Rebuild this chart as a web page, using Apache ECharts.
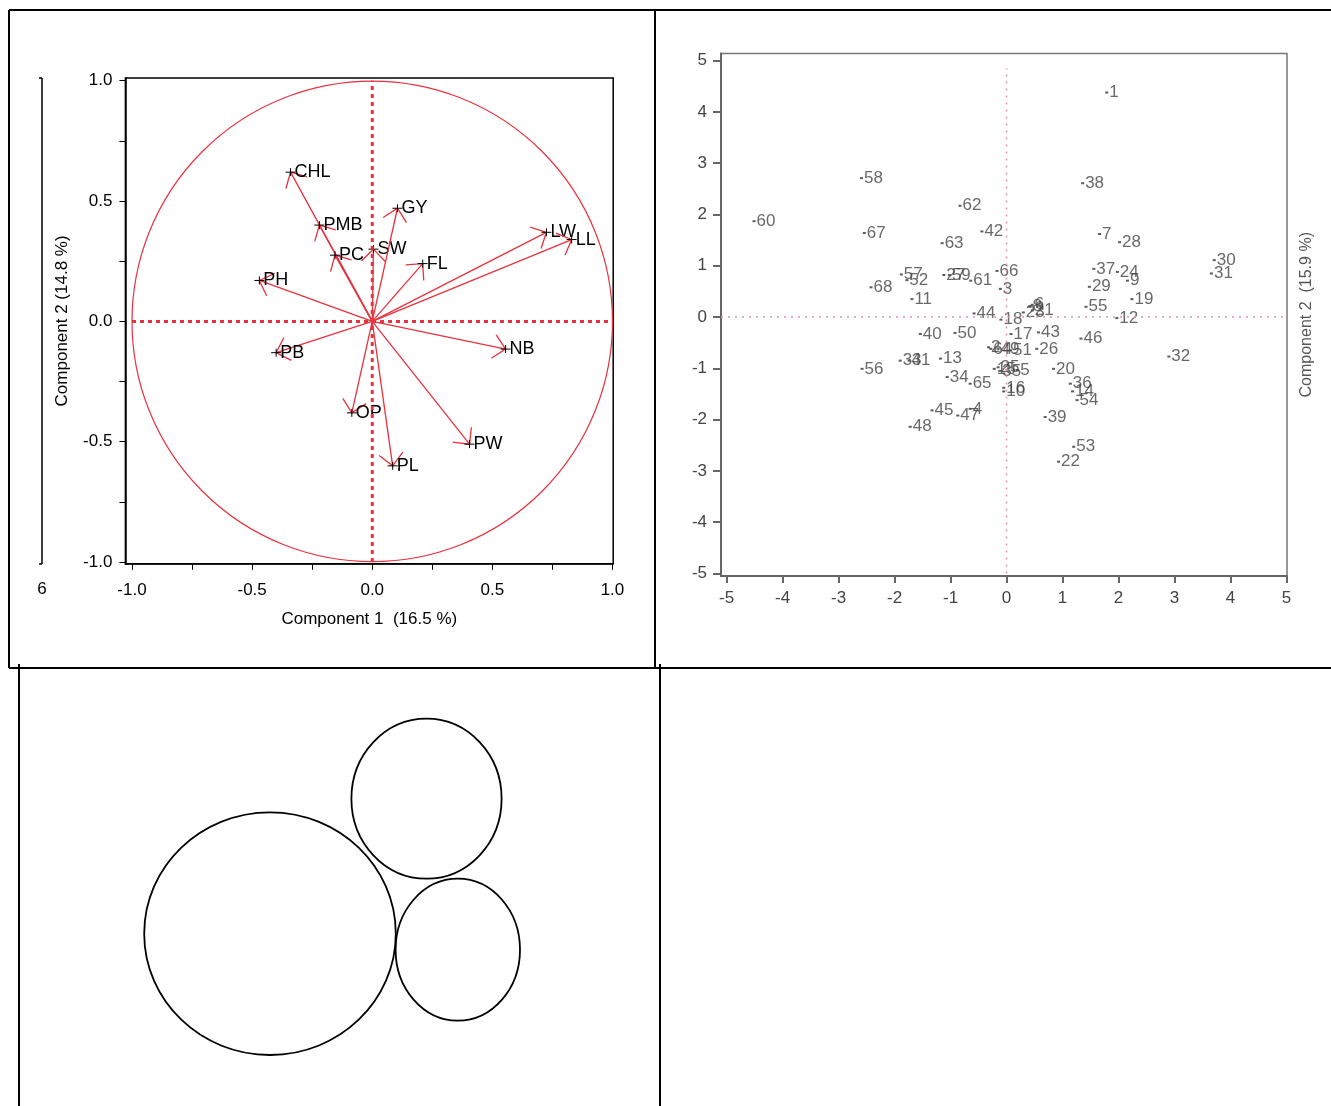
<!DOCTYPE html>
<html>
<head>
<meta charset="utf-8">
<script src="https://cdn.jsdelivr.net/npm/echarts@6/dist/echarts.min.js"></script>
<style>
html, body { margin: 0; padding: 0; background: #fff; }
#main { width: 1331px; height: 1106px; }
</style>
</head>
<body>
<div id="main"></div>
<script>
// loadings (correlation circle)
var varNames = ['CHL', 'PMB', 'PC', 'SW', 'GY', 'FL', 'LW', 'LL', 'PH', 'PB', 'NB', 'OP', 'PW', 'PL'];
var comp1 = [-0.34, -0.22, -0.155, 0.005, 0.105, 0.21, 0.725, 0.83, -0.47, -0.40, 0.555, -0.085, 0.405, 0.085];
var comp2 = [0.62, 0.40, 0.275, 0.30, 0.47, 0.24, 0.37, 0.34, 0.17, -0.13, -0.115, -0.38, -0.51, -0.60];
var loadTicks = [-1, -0.5, 0, 0.5, 1];
var loadMinorTicks = [-1, -0.75, -0.5, -0.25, 0, 0.25, 0.5, 0.75, 1];
var unitCircle = [0, 0, 1];
var hRef = [[-1, 0], [1, 0]];
var vRef = [[0, -1], [0, 1]];

// scores (observations 1..68)
var obsIds = [];
for (var i = 1; i <= 68; i++) obsIds.push(String(i));
var score1 = [1.79, -0.32, -0.11, -0.65, 0.20, 0.46, 1.66, 0.42, 2.16, -0.05,
              -1.69, 1.97, -1.18, 1.18, -0.22, -0.05, 0.08, -0.10, 2.24, 0.84,
              0.46, 0.93, 0.30, 1.98, -0.15, 0.54, -1.12, 2.02, 1.48, 3.71,
              3.66, 2.90, -1.90, -1.06, -0.12, 1.14, 1.56, 1.36, 0.69, -1.54,
              -1.74, -0.44, 0.57, -0.58, -1.33, 1.33, -0.87, -1.72, -0.15, -0.92,
              0.07, -1.78, 1.20, 1.26, 1.42, -2.58, -1.88, -2.59, -1.02, -4.51,
              -0.64, -0.83, -1.15, -0.28, -0.65, -0.17, -2.54, -2.42];
var score2 = [4.38, -0.59, 0.55, -1.79, -1.04, 0.24, 1.62, 0.20, 0.71, -1.45,
              0.35, -0.02, -0.81, -1.45, -1.01, -1.38, -0.33, -0.05, 0.35, -1.01,
              0.13, -2.82, 0.09, 0.88, -0.98, -0.62, 0.82, 1.46, 0.59, 1.11,
              0.85, -0.77, -0.85, -1.17, -1.05, -1.30, 0.94, 2.61, -1.95, -0.33,
              -0.85, 1.67, -0.30, 0.07, -1.82, -0.42, -1.92, -2.14, -0.62, -0.31,
              -0.65, 0.72, -2.53, -1.62, 0.20, -1.01, 0.83, 2.71, 0.82, 1.87,
              0.71, 2.17, 1.44, -0.62, -1.30, 0.90, 1.64, 0.58];
var scoreTicks = [-5, -4, -3, -2, -1, 0, 1, 2, 3, 4, 5];
var sRefH = [[-5.1, 0], [5.0, 0]];
var sRefV = [[0, -5.0], [0, 4.85]];

var RED = '#e8323e';
var FONT = '"Liberation Sans", Arial, sans-serif';

var loadData = varNames.map(function (n, i) { return [comp1[i], comp2[i]]; });
var scoreData = obsIds.map(function (n, i) { return [score1[i], score2[i], n]; });

function renderArrow(params, api) {
    var o = api.coord([0, 0]);
    var t = api.coord([api.value(0), api.value(1)]);
    var a = Math.atan2(o[1] - t[1], o[0] - t[0]);
    var len = 17, spread = 0.78;
    var h1 = [t[0] + len * Math.cos(a + spread), t[1] + len * Math.sin(a + spread)];
    var h2 = [t[0] + len * Math.cos(a - spread), t[1] + len * Math.sin(a - spread)];
    return {
        type: 'group',
        children: [
            { type: 'line', shape: { x1: o[0], y1: o[1], x2: t[0], y2: t[1] }, style: { stroke: RED, lineWidth: 1.3 } },
            { type: 'polyline', shape: { points: [h1, t, h2] }, style: { stroke: RED, lineWidth: 1.3, fill: null } },
            { type: 'line', shape: { x1: t[0] - 5, y1: t[1], x2: t[0] + 5, y2: t[1] }, style: { stroke: '#000', lineWidth: 1 } },
            { type: 'line', shape: { x1: t[0], y1: t[1] - 4, x2: t[0], y2: t[1] + 4 }, style: { stroke: '#000', lineWidth: 1 } },
            { type: 'text', x: t[0] + 4, y: t[1], style: { text: varNames[params.dataIndex], fill: '#000', font: '18px ' + FONT, align: 'left', verticalAlign: 'middle' } }
        ]
    };
}

function renderCircle(params, api) {
    var c = api.coord([api.value(0), api.value(1)]);
    var s = api.size([api.value(2), api.value(2)]);
    return { type: 'circle', shape: { cx: c[0], cy: c[1], r: s[0] }, style: { fill: null, stroke: RED, lineWidth: 1.2 } };
}

var chart = echarts.init(document.getElementById('main'));
chart.setOption({
    animation: false,
    backgroundColor: '#fff',
    grid: [
        { left: 125.4, top: 78, width: 487.8, height: 485.8, show: true, borderColor: '#000', borderWidth: 1.5, containLabel: false },
        { left: 721, top: 53.5, width: 566, height: 522.5, show: true, borderColor: '#777', borderWidth: 1.5, containLabel: false }
    ],
    xAxis: [
        {
            gridIndex: 0, type: 'value', min: -1.0275, max: 1.003,
            name: 'Component 1  (16.5 %)', nameLocation: 'middle', nameGap: 47,
            nameTextStyle: { color: '#000', fontSize: 17, fontFamily: FONT },
            axisLine: { show: true, onZero: false, lineStyle: { color: '#000', width: 1.5 } },
            axisTick: { show: true, length: 6, customValues: loadMinorTicks, lineStyle: { color: '#000' } },
            axisLabel: { customValues: loadTicks, margin: 18, color: '#000', fontSize: 17, fontFamily: FONT,
                formatter: function (v) { return v.toFixed(1); } },
            splitLine: { show: false }
        },
        {
            gridIndex: 1, type: 'value', min: -5.1, max: 5.01,
            axisLine: { show: true, onZero: false, lineStyle: { color: '#666', width: 2 } },
            axisTick: { show: true, length: 7, customValues: scoreTicks, lineStyle: { color: '#666', width: 2 } },
            axisLabel: { customValues: scoreTicks, margin: 14, color: '#444', fontSize: 17, fontFamily: FONT },
            splitLine: { show: false }
        }
    ],
    yAxis: [
        {
            gridIndex: 0, type: 'value', min: -1.007, max: 1.011,
            name: 'Component 2 (14.8 %)', nameLocation: 'middle', nameGap: 55, nameRotate: 90,
            nameTextStyle: { color: '#000', fontSize: 17, fontFamily: FONT },
            axisLine: { show: true, onZero: false, lineStyle: { color: '#000', width: 1.5 } },
            axisTick: { show: true, length: 6, customValues: loadMinorTicks, lineStyle: { color: '#000' } },
            axisLabel: { customValues: loadTicks, margin: 13, color: '#000', fontSize: 17, fontFamily: FONT,
                formatter: function (v) { return v.toFixed(1); } },
            splitLine: { show: false }
        },
        {
            gridIndex: 1, type: 'value', min: -5.05, max: 5.14,
            axisLine: { show: true, onZero: false, lineStyle: { color: '#666', width: 2 } },
            axisTick: { show: true, length: 8, customValues: scoreTicks, lineStyle: { color: '#666', width: 2 } },
            axisLabel: { customValues: scoreTicks, margin: 14, color: '#444', fontSize: 17, fontFamily: FONT },
            splitLine: { show: false }
        },
        {
            gridIndex: 1, type: 'value', min: -5.05, max: 5.14, position: 'right',
            name: 'Component 2  (15.9 %)', nameLocation: 'middle', nameGap: 12, nameRotate: 90,
            nameTextStyle: { color: '#555', fontSize: 16, fontFamily: FONT },
            axisLine: { show: false, onZero: false }, axisTick: { show: false }, axisLabel: { show: false }, splitLine: { show: false }
        }
    ],
    series: [
        { type: 'line', xAxisIndex: 0, yAxisIndex: 0, data: hRef, symbol: 'none', silent: true,
          lineStyle: { color: RED, width: 3, type: [4, 4] } },
        { type: 'line', xAxisIndex: 0, yAxisIndex: 0, data: vRef, symbol: 'none', silent: true,
          lineStyle: { color: RED, width: 3, type: [4, 4] } },
        { type: 'custom', xAxisIndex: 0, yAxisIndex: 0, data: [unitCircle], renderItem: renderCircle, silent: true },
        { type: 'custom', xAxisIndex: 0, yAxisIndex: 0, data: loadData, renderItem: renderArrow, silent: true },
        { type: 'line', xAxisIndex: 1, yAxisIndex: 1, data: sRefH, symbol: 'none', silent: true,
          lineStyle: { color: '#dd95a8', width: 1.5, type: [2, 5] } },
        { type: 'line', xAxisIndex: 1, yAxisIndex: 1, data: sRefV, symbol: 'none', silent: true,
          lineStyle: { color: '#dd95a8', width: 1.5, type: [2, 5] } },
        {
            type: 'scatter', xAxisIndex: 1, yAxisIndex: 1, data: scoreData,
            symbol: 'rect', symbolSize: [3, 2], itemStyle: { color: '#333' }, silent: true,
            label: { show: true, position: 'right', distance: 1, color: '#444', fontSize: 17, fontFamily: FONT,
                formatter: function (p) { return p.data[2]; } },
            labelLayout: { hideOverlap: false }
        }
    ],
    graphic: [
        { type: 'line', shape: { x1: 9, y1: 10, x2: 1331, y2: 10 }, style: { stroke: '#000', lineWidth: 2 } },
        { type: 'line', shape: { x1: 9, y1: 10, x2: 9, y2: 668 }, style: { stroke: '#000', lineWidth: 2 } },
        { type: 'line', shape: { x1: 655, y1: 10, x2: 655, y2: 668 }, style: { stroke: '#000', lineWidth: 2 } },
        { type: 'line', shape: { x1: 9, y1: 668, x2: 1331, y2: 668 }, style: { stroke: '#000', lineWidth: 2 } },
        { type: 'line', shape: { x1: 19, y1: 664, x2: 19, y2: 1106 }, style: { stroke: '#000', lineWidth: 2 } },
        { type: 'line', shape: { x1: 660, y1: 664, x2: 660, y2: 1106 }, style: { stroke: '#000', lineWidth: 2 } },
        // stray axis in first panel
        { type: 'line', shape: { x1: 42, y1: 78, x2: 42, y2: 564 }, style: { stroke: '#000', lineWidth: 1.5 } },
        { type: 'line', shape: { x1: 39, y1: 78, x2: 42, y2: 78 }, style: { stroke: '#000', lineWidth: 1.5 } },
        { type: 'line', shape: { x1: 39, y1: 564, x2: 42, y2: 564 }, style: { stroke: '#000', lineWidth: 1.5 } },
        { type: 'text', x: 42, y: 589, style: { text: '6', fill: '#000', font: '17px ' + FONT, align: 'center', verticalAlign: 'middle' } },
        // circles in the lower panel
        { type: 'ellipse', shape: { cx: 270, cy: 933.7, rx: 125.8, ry: 121.3 }, style: { fill: null, stroke: '#000', lineWidth: 1.8 } },
        { type: 'ellipse', shape: { cx: 426.5, cy: 798.7, rx: 75.1, ry: 80 }, style: { fill: null, stroke: '#000', lineWidth: 1.8 } },
        { type: 'ellipse', shape: { cx: 457.8, cy: 949.7, rx: 62.2, ry: 71 }, style: { fill: null, stroke: '#000', lineWidth: 1.8 } }
    ]
});
</script>
</body>
</html>
